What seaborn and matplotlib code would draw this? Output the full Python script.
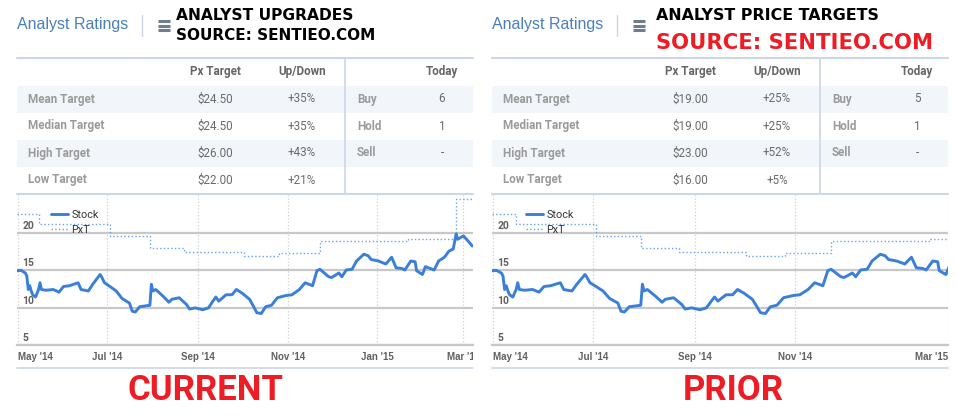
import pandas as pd
import matplotlib
matplotlib.use("Agg")
import matplotlib.pyplot as plt
from matplotlib.patches import Rectangle
from matplotlib.transforms import Bbox, TransformedBbox
import seaborn as sns

sns.set_theme(style="white")
plt.rcParams["font.family"] = ["DejaVu Sans"]

START = pd.Timestamp("2014-05-01")

# stock price (days after 1 May 2014)
stock_day = [-1, 2, 5, 6, 7, 8, 9, 10, 12, 14, 15, 16, 19, 24, 28, 31, 35, 41, 43, 48,
             51, 56, 57, 59, 62, 67, 71, 76, 78, 80, 83, 90, 91, 92, 94, 99, 103, 105,
             110, 115, 117, 121, 126, 130, 133, 135, 137, 142, 146, 149, 153, 158, 160,
             163, 166, 169, 173, 177, 183, 187, 192, 196, 201, 204, 206, 212, 214, 219,
             221, 224, 228, 231, 236, 239, 241, 246, 251, 255, 258, 262, 264, 268, 271,
             272, 276, 278, 284, 287, 291, 294, 297, 299, 300, 304, 307, 310]
stock_px = [14.9, 14.95, 14.6, 14.2, 12.4, 12.9, 12.2, 11.7, 11.4, 12.4, 13.3, 12.4,
            12.3, 12.4, 12.05, 12.8, 12.9, 13.3, 12.4, 12.2, 13.1, 14.4, 14.1, 13.3,
            12.9, 12.2, 11.2, 10.6, 9.5, 9.4, 10.1, 10.3, 13.1, 12.2, 12.4, 11.5, 10.7,
            11.1, 11.3, 10.4, 9.8, 9.95, 9.7, 9.95, 10.85, 11.4, 10.85, 11.7, 11.7, 12.4,
            11.9, 11.1, 10.4, 9.3, 9.2, 10.1, 10.3, 11.3, 11.6, 11.7, 12.4, 13.3, 12.9,
            14.9, 15.1, 14.1, 14.0, 14.6, 14.1, 15.0, 15.1, 16.2, 17.1, 16.9, 16.4, 16.2,
            15.8, 16.7, 15.3, 15.2, 15.0, 16.2, 16.1, 14.9, 14.4, 15.45, 15.0, 16.2, 16.7,
            17.5, 17.8, 19.8, 19.1, 19.55, 18.9, 18.2]

# consensus price target: day it changes and the new level
pxt_day = [-1, 14, 63, 90, 113, 154, 178, 206, 266, 299]
pxt_val = [22.5, 21.2, 19.6, 17.9, 17.4, 16.9, 17.3, 18.9, 19.2, 24.5]

row_names = ["Mean Target", "Median Target", "High Target", "Low Target"]
cur_target = ["$24.50", "$24.50", "$26.00", "$22.00"]
cur_updown = ["+35%", "+35%", "+43%", "+21%"]
prior_target = ["$19.00", "$19.00", "$23.00", "$16.00"]
prior_updown = ["+25%", "+25%", "+52%", "+5%"]
rating_names = ["Buy", "Hold", "Sell"]
cur_ratings = ["6", "1", "-"]
prior_ratings = ["5", "1", "-"]

y_ticks = [5, 10, 15, 20]
month_days = [0, 61, 123, 184, 245, 304]
month_labels = ["May '14", "Jul '14", "Sep '14", "Nov '14", "Jan '15", "Mar '15"]

W, H = 956, 416
fig = plt.figure(figsize=(W / 100, H / 100), dpi=100)
bg = fig.add_axes([0, 0, 1, 1])
bg.set_xlim(0, W)
bg.set_ylim(H, 0)
bg.axis("off")

ARIAL = ["Liberation Sans", "DejaVu Sans"]
ROBOTO = ["Roboto", "DejaVu Sans"]
NARROW = ["Liberation Sans Narrow", "Liberation Sans", "DejaVu Sans"]
LINE = "#ccd6e6"


def days(d):
    return START + pd.to_timedelta(d, unit="D")


def panel(x0, title_dx, head1, head1_size, head2, head2_color, head2_size, head2_y,
          targets, updown, ratings, xmax, n_months, last_label, last_ha, clip_last):
    # header
    bg.text(x0, 25, "Analyst Ratings", color="#4a7fbd", fontsize=11.5,
            family=ARIAL, va="center")
    bg.plot([x0 + 125, x0 + 125], [15, 36], color=LINE, lw=1)
    for yy in (21, 25.5, 30):
        bg.plot([x0 + 141, x0 + 153], [yy, yy], color="#6e7d8f", lw=2.2,
                solid_capstyle="butt")
    bg.text(x0 + title_dx, 15, head1, color="black", fontsize=head1_size,
            fontweight="bold", va="center")
    bg.text(x0 + title_dx, head2_y, head2, color=head2_color,
            fontsize=head2_size, fontweight="bold", va="center")

    # table
    bg.plot([x0, x0 + 456], [58, 58], color=LINE, lw=1.5)
    bg.plot([x0, x0 + 456], [194, 194], color=LINE, lw=1.5)
    for yy in (86, 140):
        bg.add_patch(Rectangle((x0, yy), 456, 27, color="#f2f6fa", lw=0))
    bg.plot([x0 + 328, x0 + 328], [58, 194], color=LINE, lw=1.2)
    head = dict(color="#666666", fontsize=8.4, fontweight="bold", family=ROBOTO,
                va="center")
    bg.text(x0 + 198, 72, "Px Target", ha="center", **head)
    bg.text(x0 + 285, 72, "Up/Down", ha="center", **head)
    bg.text(x0 + 425, 72, "Today", ha="center", **head)
    label = dict(color="#9a9a9a", fontsize=8.4, fontweight="bold", family=ROBOTO,
                 va="center")
    value = dict(color="#6a6a6a", fontsize=8.4, family=ROBOTO, va="center",
                 ha="center")
    for i, name in enumerate(row_names):
        yy = 99 + 27 * i
        bg.text(x0 + 11, yy, name, **label)
        bg.text(x0 + 198, yy, targets[i], **value)
        bg.text(x0 + 285, yy, updown[i], **value)
    for i, name in enumerate(rating_names):
        yy = 99 + 27 * i
        bg.text(x0 + 340, yy, name, **label)
        bg.text(x0 + 425, yy, ratings[i], **value)
    bg.plot([x0, x0 + 456], [368, 368], color=LINE, lw=1.2)

    # price chart
    ax = fig.add_axes([x0 / W, 1 - 345 / H, 456 / W, 150 / H])
    ax.set_facecolor("none")
    stock = pd.DataFrame({"date": days(stock_day), "px": stock_px})
    pxt = pd.DataFrame({"date": days(pxt_day + [xmax + 1]),
                        "px": pxt_val + [pxt_val[-1]]})
    sns.lineplot(data=stock, x="date", y="px", ax=ax, color="#3a7fd9", lw=2.1,
                 label="Stock", zorder=3, estimator=None)
    sns.lineplot(data=pxt, x="date", y="px", ax=ax, color="#6aa3e8", lw=1,
                 linestyle=":", drawstyle="steps-post", label="PxT", zorder=2,
                 estimator=None)
    ax.set_xlim(days(-0.7), days(xmax))
    ax.set_ylim(5, 25)
    ax.set_yticks(y_ticks)
    ax.set_yticklabels([])
    ax.tick_params(axis="y", length=0)
    ax.grid(axis="y", color="#c8c8c8", lw=1.6)
    for v in y_ticks:
        ax.text(0.012, v + 0.25, str(v), transform=ax.get_yaxis_transform(),
                color="#606060", fontsize=7.5, fontweight="bold", va="bottom",
                ha="left", family=ROBOTO)
    tick_days = month_days[:n_months] + ([xmax] if last_label else [])
    tick_labels = month_labels[:n_months] + ([last_label] if last_label else [])
    ax.set_xticks(days(tick_days))
    ax.set_xticklabels(tick_labels)
    ax.tick_params(axis="x", length=0, pad=5, labelsize=7, labelcolor="#606060")
    ax.grid(axis="x", color="#cfcfcf", lw=0.9, linestyle=":")
    labs = ax.get_xticklabels()
    for lab in labs:
        lab.set_family(NARROW)
        lab.set_fontweight("bold")
    labs[0].set_ha("left")
    labs[-1].set_ha(last_ha)
    if clip_last:
        labs[-1].set_clip_on(True)
        labs[-1].set_clip_box(TransformedBbox(
            Bbox.from_extents(0, 0, (x0 + 456) / W, 1), fig.transFigure))
    for s in ax.spines.values():
        s.set_visible(False)
    ax.spines["bottom"].set_visible(True)
    ax.spines["bottom"].set_color("#c8c8c8")
    ax.spines["bottom"].set_linewidth(1.6)
    ax.set_xlabel("")
    ax.set_ylabel("")
    leg = ax.legend(loc="upper left", bbox_to_anchor=(0.066, 0.93), frameon=False,
                    handlelength=1.5, labelspacing=0.5, handletextpad=0.35,
                    borderaxespad=0, prop={"family": ROBOTO, "size": 7.8})
    for t in leg.get_texts():
        t.set_color("#333333")
    return ax


panel(17, 159, "ANALYST UPGRADES", 11.2, "SOURCE: SENTIEO.COM", "black", 11, 36,
      cur_target, cur_updown, cur_ratings, 310.5, 6, None, "center", True)
panel(492, 164, "ANALYST PRICE TARGETS", 11.4, "SOURCE: SENTIEO.COM", "#ee1c25",
      15.2, 43, prior_target, prior_updown, prior_ratings, 277.3, 4, "Mar '15",
      "right", False)

for x, word in [(206, "CURRENT"), (733, "PRIOR")]:
    bg.text(x, 390, word, color="#ee1c25", fontsize=25, fontweight="bold",
            family=ROBOTO, ha="center", va="center")

fig.savefig("out.png", dpi=100)
